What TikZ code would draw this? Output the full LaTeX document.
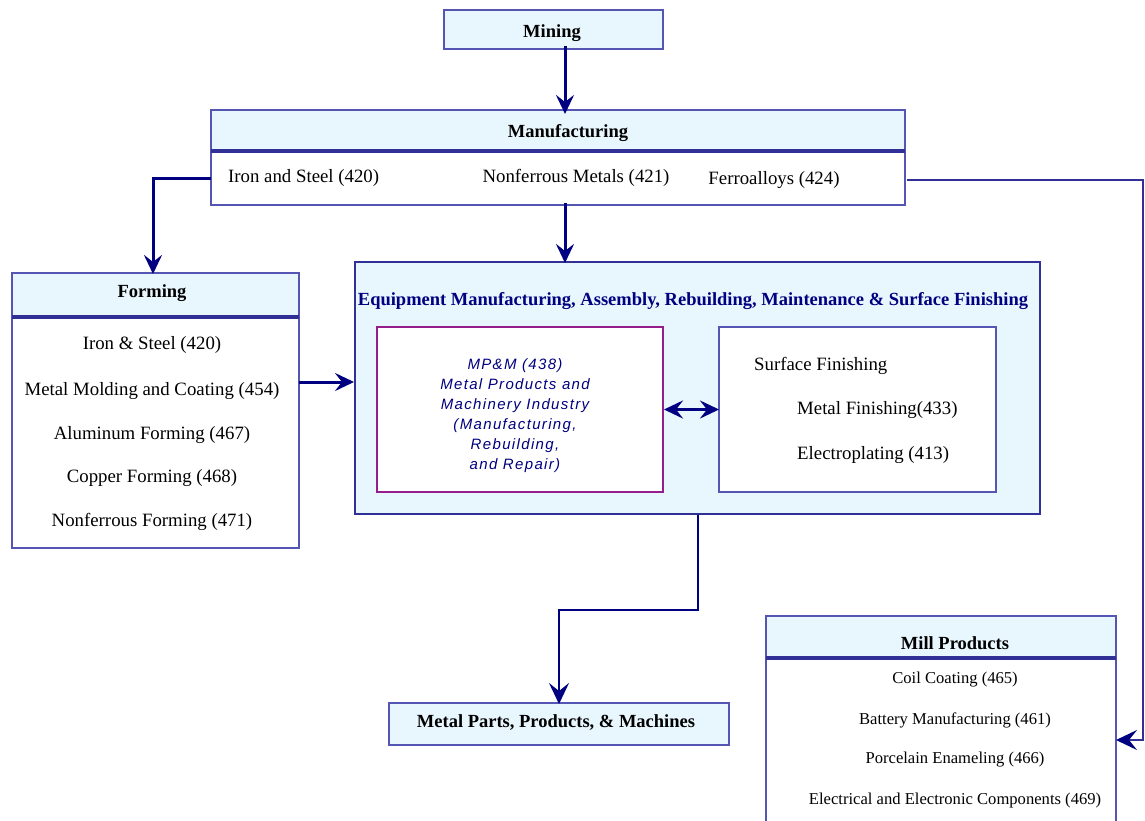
\documentclass[tikz,border=0pt]{standalone}
\usepackage{fontspec}
\setmainfont{Liberation Serif}
\newfontfamily\mpmfont{Liberation Sans}[LetterSpace=9]
\usetikzlibrary{arrows.meta}
\definecolor{boxline}{RGB}{85,85,180}
\definecolor{divline}{RGB}{48,48,150}
\definecolor{navy}{RGB}{0,0,128}
\definecolor{paleblue}{RGB}{232,246,254}
\definecolor{mpmline}{RGB}{150,30,140}
\begin{document}
\begin{tikzpicture}[x=1pt,y=-1pt,
  box/.style={draw=boxline,line width=2pt,inner sep=0pt,outer sep=0pt},
  headbox/.style={box,fill=paleblue},
  plainbox/.style={box,fill=white},
  divider/.style={draw=divline,line width=3.5pt},
  head/.style={font=\fontsize{18.5}{20}\selectfont\bfseries,inner sep=0pt},
  item/.style={font=\fontsize{18.8}{21}\selectfont,inner sep=0pt},
  smallitem/.style={font=\fontsize{16.6}{18}\selectfont,inner sep=0pt},
  link/.style={draw=navy,line width=3pt,-{Stealth[length=19pt,width=18pt,inset=7pt]}},
  thinlink/.style={draw=navy,line width=2pt,-{Stealth[length=21pt,width=20pt,inset=8pt]}},
  feed/.style={draw=divline,line width=2pt,-{Stealth[length=21pt,width=20pt,inset=8pt,color=navy]}},
  twoway/.style={draw=navy,line width=3pt,{Stealth[length=19pt,width=18pt,inset=7pt]}-{Stealth[length=19pt,width=18pt,inset=7pt]}},
]
\useasboundingbox (0,0) rectangle (1145,820);
\fill[white] (0,0) rectangle (1145,820);

% Mining
\node[headbox,minimum width=219pt,minimum height=39pt] (mining) at (553.5,29.5) {};
\node[head] (miningtxt) at (552,33) {Mining};

% Manufacturing
\node[plainbox,minimum width=694pt,minimum height=95pt] (manbox) at (558,157.5) {};
\node[headbox,minimum width=694pt,minimum height=41pt] (manhead) at (558,130.5) {};
\draw[divider] (manhead.south west) -- (manhead.south east);
\node[head] (mantxt) at (568,133) {Manufacturing};
\node[item,anchor=west] (iron) at (228,178) {Iron and Steel (420)};
\node[item] (nonfer) at (576,178) {Nonferrous Metals (421)};
\node[item] (ferro) at (774,180) {Ferroalloys (424)};

% Forming
\node[plainbox,minimum width=287pt,minimum height=275pt] (forming) at (155.5,410.5) {};
\node[headbox,minimum width=287pt,minimum height=44pt] (formhead) at (155.5,295) {};
\draw[divider] (formhead.south west) -- (formhead.south east);
\node[head] (formtxt) at (152,293) {Forming};
\node[item] (f1) at (152,345) {Iron \& Steel (420)};
\node[item] (f2) at (152,391) {Metal Molding and Coating (454)};
\node[item] (f3) at (152,435) {Aluminum Forming (467)};
\node[item] (f4) at (152,478) {Copper Forming (468)};
\node[item] (f5) at (152,522) {Nonferrous Forming (471)};

% Equipment group
\node[draw=divline,line width=2pt,fill=paleblue,inner sep=0pt,minimum width=685pt,minimum height=252pt] (equip) at (697.5,388) {};
\node[head,text=navy] (equiptxt) at (693,301) {Equipment Manufacturing, Assembly, Rebuilding, Maintenance \& Surface Finishing};

\node[draw=mpmline,line width=2pt,fill=white,inner sep=0pt,minimum width=286pt,minimum height=165pt] (mpm) at (520,409.5) {};
\node[align=center,text=navy,inner sep=0pt,font=\mpmfont\itshape\fontsize{15}{20}\selectfont] (mpmtxt) at (515,416)
  {MP\&M (438)\\Metal Products and\\Machinery Industry\\(Manufacturing,\\Rebuilding,\\and Repair)};

\node[plainbox,minimum width=277pt,minimum height=165pt] (surf) at (857.5,409.5) {};
\node[item,anchor=west] (s0) at (754,366) {Surface Finishing};
\node[item,anchor=west] (s1) at (797,410) {Metal Finishing(433)};
\node[item,anchor=west] (s2) at (797,455) {Electroplating (413)};

% Metal parts
\node[headbox,minimum width=340pt,minimum height=42pt] (parts) at (559,724) {};
\node[head] (partstxt) at (556,722) {Metal Parts, Products, \& Machines};

% Mill products
\node[plainbox,minimum width=350pt,minimum height=248pt] (mill) at (941,740) {};
\node[headbox,minimum width=350pt,minimum height=42pt] (millhead) at (941,637) {};
\draw[divider] (millhead.south west) -- (millhead.south east);
\node[head] (milltxt) at (955,643) {Mill Products};
\node[smallitem] (m1) at (955,680) {Coil Coating (465)};
\node[smallitem] (m2) at (955,720) {Battery Manufacturing (461)};
\node[smallitem] (m3) at (955,760) {Porcelain Enameling (466)};
\node[smallitem] (m4) at (955,800) {Electrical and Electronic Components (469)};

% connectors
\coordinate (spine) at (565,0);
\coordinate (leftcol) at (153,0);
\coordinate (edge) at (1143,0);
\coordinate (feedrow) at (0,382);
\coordinate (droprow) at (0,610);

\draw[link] ([yshift=3pt]spine |- mining.south) -- ([yshift=-4pt]spine |- manhead.north);
\draw[link] ([yshift=2pt]spine |- manbox.south) -- ([yshift=-2pt]spine |- equip.north);
\draw[link] (iron.west -| manbox.west) -| ([yshift=-1pt]leftcol |- formhead.north);
\draw[feed] ([xshift=2pt]ferro.east -| manbox.east) -- (edge |- ferro.east) |- (mill.east);
\draw[link] (forming.east |- feedrow) -- (equip.west |- feedrow);
\draw[twoway] (mpm.east) -- (surf.west);
\draw[thinlink] (equip.south) -- (equip.south |- droprow) -| ([yshift=-1pt]parts.north);
\end{tikzpicture}
\end{document}
